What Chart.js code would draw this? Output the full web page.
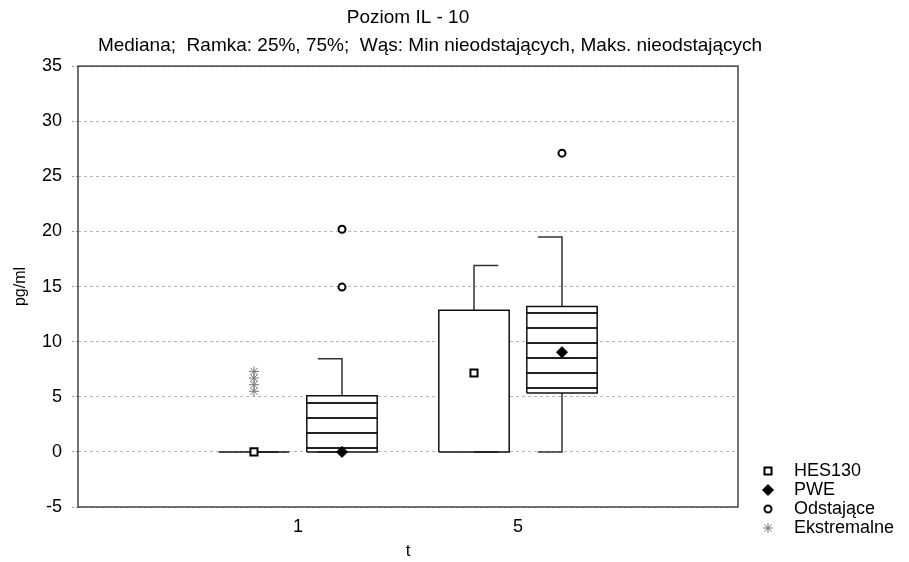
<!DOCTYPE html>
<html>
<head>
<meta charset="utf-8">
<title>Poziom IL - 10</title>
<script src="https://cdn.jsdelivr.net/npm/chart.js@4.4.1/dist/chart.umd.min.js"></script>
<style>
  html, body { margin: 0; padding: 0; background: #fff; }
  #wrap { width: 909px; height: 562px; }
</style>
</head>
<body>
<div id="wrap"><canvas id="chart"></canvas></div>
<script>
    // Data
    const CATEGORIES = ['1', '5'];
    const Y_TICKS = [-5, 0, 5, 10, 15, 20, 25, 30, 35];

    const HES_MIN = [0, 0];
    const HES_Q1 = [0, 0];
    const HES_MEDIAN = [0, 7.15];
    const HES_Q3 = [0, 12.85];
    const HES_MAX = [0, 16.9];
    const HES_EXTREMES = [[5.5, 6.1, 6.7, 7.3], []];

    const PWE_MIN = [0, 0];
    const PWE_Q1 = [0, 5.35];
    const PWE_MEDIAN = [0, 9.05];
    const PWE_Q3 = [5.1, 13.2];
    const PWE_MAX = [8.45, 19.5];
    const PWE_OUTLIERS = [[20.2, 14.95], [27.1]];

    const LEGEND_ITEMS = ['HES130', 'PWE', 'Odstające', 'Ekstremalne'];

    // Layout of the boxes in x-axis units (one category = 1 unit)
    const OFFSET = 0.2;
    const BOX_HALF = 0.16;
    const CAP = 0.11;
    const FONT = '"Liberation Sans", Arial, sans-serif';

    Chart.defaults.font.family = FONT;
    Chart.defaults.color = '#000';

    const hesX = CATEGORIES.map((c, i) => i + 1 - OFFSET);
    const pweX = CATEGORIES.map((c, i) => i + 1 + OFFSET);

    // Box outline as closed rectangles, separated by gaps
    function outlinePoints(xs, q1, q3) {
      const pts = [];
      xs.forEach((x, i) => {
        pts.push(
          { x: x - BOX_HALF, y: q1[i] }, { x: x + BOX_HALF, y: q1[i] },
          { x: x + BOX_HALF, y: q3[i] }, { x: x - BOX_HALF, y: q3[i] },
          { x: x - BOX_HALF, y: q1[i] }, { x: x, y: null }
        );
      });
      return pts;
    }

    // Whiskers with a one-sided cap
    function whiskerPoints(xs, lo, q1, q3, hi, dir) {
      const pts = [];
      xs.forEach((x, i) => {
        pts.push(
          { x: x + dir * CAP, y: lo[i] }, { x: x, y: lo[i] }, { x: x, y: q1[i] }, { x: x, y: null },
          { x: x, y: q3[i] }, { x: x, y: hi[i] }, { x: x + dir * CAP, y: hi[i] }, { x: x, y: null }
        );
      });
      return pts;
    }

    function pointsAt(xs, values) {
      return xs.map((x, i) => ({ x: x, y: values[i] }));
    }

    function groupPoints(xs, groups) {
      const pts = [];
      xs.forEach((x, i) => groups[i].forEach(v => pts.push({ x: x, y: v })));
      return pts;
    }

    function hatchPattern() {
      const c = document.createElement('canvas');
      c.width = 4;
      c.height = 15;
      const g = c.getContext('2d');
      g.fillStyle = '#fff';
      g.fillRect(0, 0, 4, 15);
      g.fillStyle = '#222';
      g.fillRect(0, 12, 4, 2);
      return g.createPattern(c, 'repeat');
    }

    const lineStyle = { type: 'line', pointRadius: 0, tension: 0, spanGaps: false, borderJoinStyle: 'miter', fill: false };

    // Frame round the plot area
    const framePlugin = {
      id: 'frame',
      afterDatasetsDraw(chart) {
        const { ctx, chartArea: a } = chart;
        ctx.save();
        ctx.strokeStyle = '#444';
        ctx.lineWidth = 1.5;
        ctx.strokeRect(a.left, a.top, a.right - a.left, a.bottom - a.top);
        ctx.restore();
      }
    };

    // Legend at bottom right, below the plot's right edge
    const sideLegend = {
      id: 'sideLegend',
      afterDraw(chart) {
        const ctx = chart.ctx;
        ctx.save();
        ctx.font = '18px ' + FONT;
        ctx.textBaseline = 'middle';
        LEGEND_ITEMS.forEach((label, i) => {
          const ds = chart.data.datasets.find(d => d.label === label);
          const y = 471 + i * 19;
          ctx.fillStyle = ds.pointBackgroundColor;
          ctx.strokeStyle = ds.pointBorderColor;
          ctx.lineWidth = ds.pointBorderWidth;
          Chart.helpers.drawPoint(ctx, {
            pointStyle: ds.pointStyle, radius: ds.pointRadius, rotation: 0, borderWidth: ds.pointBorderWidth
          }, 768, y);
          ctx.fillStyle = '#000';
          ctx.fillText(label, 794, y);
        });
        ctx.restore();
      }
    };

    function init() {
      const ctx = document.getElementById('chart');

      new Chart(ctx, {
        type: 'bar',
        data: {
          datasets: [
            {
              type: 'scatter', label: 'HES130', order: 0,
              data: pointsAt(hesX, HES_MEDIAN),
              pointStyle: 'rect', pointRadius: 5,
              pointBackgroundColor: '#fff', pointBorderColor: '#000', pointBorderWidth: 2
            },
            {
              type: 'scatter', label: 'PWE', order: 0,
              data: pointsAt(pweX, PWE_MEDIAN),
              pointStyle: 'rectRot', pointRadius: 5.5,
              pointBackgroundColor: '#000', pointBorderColor: '#000', pointBorderWidth: 1
            },
            {
              type: 'scatter', label: 'Odstające', order: 0,
              data: groupPoints(pweX, PWE_OUTLIERS),
              pointStyle: 'circle', pointRadius: 3.5,
              pointBackgroundColor: '#fff', pointBorderColor: '#000', pointBorderWidth: 2
            },
            {
              type: 'scatter', label: 'Ekstremalne', order: 0,
              data: groupPoints(hesX, HES_EXTREMES),
              pointStyle: 'star', pointRadius: 5,
              pointBackgroundColor: '#fff', pointBorderColor: '#777', pointBorderWidth: 1
            },
            Object.assign({ label: 'HES130 box', order: 1, data: outlinePoints(hesX, HES_Q1, HES_Q3), borderColor: '#111', borderWidth: 1.5 }, lineStyle),
            Object.assign({ label: 'PWE box', order: 1, data: outlinePoints(pweX, PWE_Q1, PWE_Q3), borderColor: '#111', borderWidth: 1.5 }, lineStyle),
            Object.assign({ label: 'HES130 whiskers', order: 2, data: whiskerPoints(hesX, HES_MIN, HES_Q1, HES_Q3, HES_MAX, 1), borderColor: '#333', borderWidth: 1.5 }, lineStyle),
            Object.assign({ label: 'PWE whiskers', order: 2, data: whiskerPoints(pweX, PWE_MIN, PWE_Q1, PWE_Q3, PWE_MAX, -1), borderColor: '#333', borderWidth: 1.5 }, lineStyle),
            {
              type: 'bar', label: 'HES130 fill', order: 3, grouped: false,
              data: hesX.map((x, i) => ({ x: x, y: [HES_Q1[i], HES_Q3[i]] })),
              backgroundColor: '#fff', borderWidth: 0,
              categoryPercentage: 1, barPercentage: 0.8
            },
            {
              type: 'bar', label: 'PWE fill', order: 3, grouped: false,
              data: pweX.map((x, i) => ({ x: x, y: [PWE_Q1[i], PWE_Q3[i]] })),
              backgroundColor: hatchPattern(), borderWidth: 0,
              categoryPercentage: 1, barPercentage: 0.8
            }
          ]
        },
        options: {
          responsive: true,
          maintainAspectRatio: false,
          animation: false,
          layout: { padding: { left: 0, right: 49, top: 0, bottom: 0 } },
          plugins: {
            legend: { display: false },
            tooltip: { enabled: false },
            title: {
              display: true, text: 'Poziom IL - 10', fullSize: false,
              color: '#000', font: { size: 19, weight: 'normal' },
              padding: { top: 6.5, bottom: 5 }
            },
            subtitle: {
              display: true,
              text: 'Mediana;  Ramka: 25%, 75%;  Wąs: Min nieodstających, Maks. nieodstających',
              color: '#000', font: { size: 19 },
              padding: { top: 0, bottom: 9 }
            }
          },
          scales: {
            x: {
              type: 'linear', min: 0, max: CATEGORIES.length + 1, offset: false,
              afterBuildTicks: axis => { axis.ticks = CATEGORIES.map((c, i) => ({ value: i + 1 })); },
              ticks: {
                callback: v => CATEGORIES[v - 1] || '',
                color: '#000', font: { size: 18 }, padding: 9, maxRotation: 0, autoSkip: false
              },
              grid: { display: false, drawTicks: false, offset: false },
              border: { display: false },
              title: { display: true, text: 't', color: '#000', font: { size: 17 }, padding: { top: 0, bottom: 0 } },
              afterFit: axis => { axis.height = 55; }
            },
            y: {
              min: Y_TICKS[0], max: Y_TICKS[Y_TICKS.length - 1],
              afterBuildTicks: axis => { axis.ticks = Y_TICKS.map(v => ({ value: v })); },
              ticks: { color: '#000', font: { size: 18 }, padding: 10 },
              grid: { color: '#b5b5b5', tickLength: 6, tickColor: '#999', tickBorderDash: [2, 2] },
              border: { display: false, dash: [3, 3] },
              title: { display: true, text: 'pg/ml', color: '#000', font: { size: 16 }, padding: { top: 11, bottom: 0 } },
              afterFit: axis => { axis.width = 78; }
            },
            y2: {
              position: 'right', display: true,
              ticks: { display: false },
              grid: { display: false, drawTicks: false },
              border: { display: false },
              afterFit: axis => { axis.width = 122; }
            }
          }
        },
        plugins: [framePlugin, sideLegend]
      });
    }

    if (document.readyState === 'loading') {
      document.addEventListener('DOMContentLoaded', init);
    } else {
      init();
    }
</script>
</body>
</html>
